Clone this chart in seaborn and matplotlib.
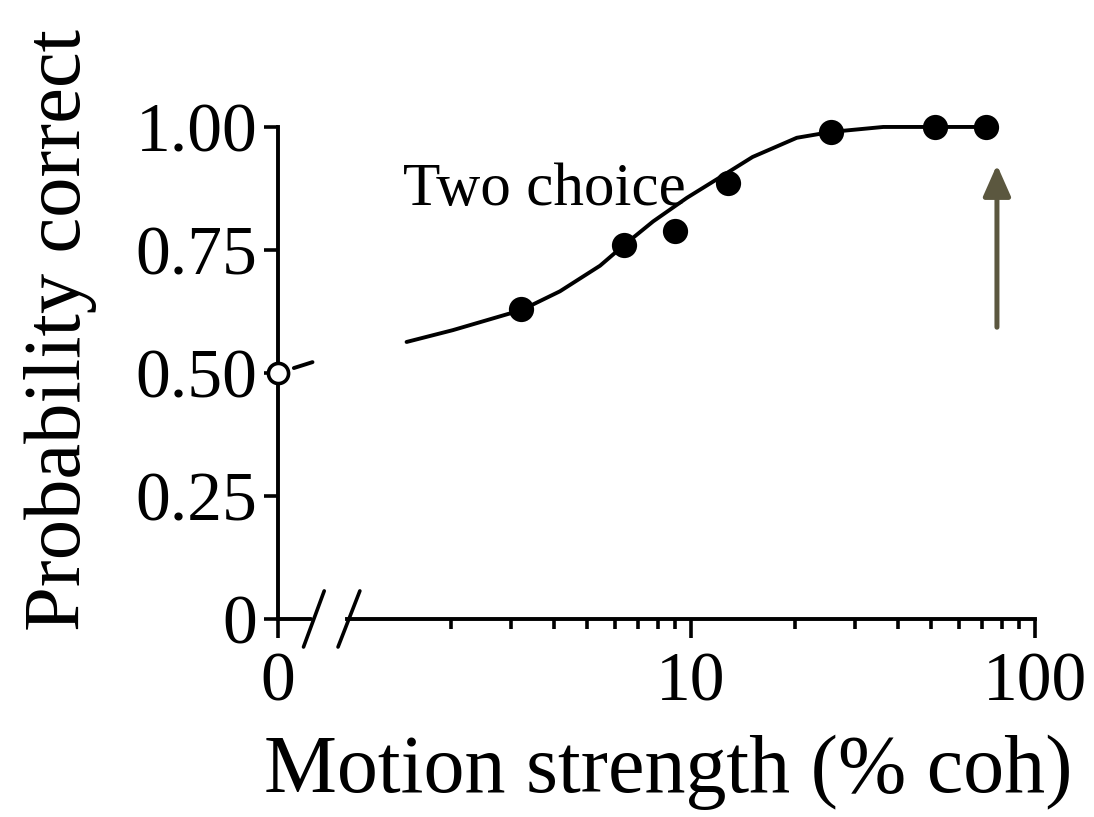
import numpy as np
import pandas as pd
import matplotlib
matplotlib.use("Agg")
import matplotlib.pyplot as plt
import matplotlib.transforms as mtransforms
from matplotlib.lines import Line2D
import seaborn as sns

# ---- data ----
coherence = [3.2, 6.4, 9.0, 12.8, 25.6, 51.2, 72.0]
p_correct = [0.630, 0.760, 0.789, 0.886, 0.990, 1.000, 1.000]

fit_coh = [1.49, 2.03, 3.22, 4.16, 5.44, 6.39, 7.76, 9.73, 12.1, 15.1, 20.3, 25.6, 36.2, 72.5]
fit_p = [0.563, 0.587, 0.628, 0.666, 0.718, 0.760, 0.808, 0.856, 0.897, 0.939, 0.978, 0.990, 1.000, 1.000]

chance_coh = [0.0]
chance_p = [0.5]

dash_coh = [0.23, 0.50]
dash_p = [0.510, 0.522]

x_major = [0, 10, 100]
x_major_labels = ["0", "10", "100"]
x_minor = [2, 3, 4, 5, 6, 7, 8, 9, 20, 30, 40, 50, 60, 70, 80, 90]
y_ticks = [0, 0.25, 0.5, 0.75, 1.0]
y_tick_labels = ["0", "0.25", "0.50", "0.75", "1.00"]

arrow_x = 77.5
arrow_from = 0.593
arrow_to = 0.923

# ---- style ----
sns.set_style("ticks")
plt.rcParams["font.family"] = ["Liberation Serif", "DejaVu Serif"]
plt.rcParams["text.color"] = "black"
plt.rcParams["axes.labelcolor"] = "black"
plt.rcParams["xtick.color"] = "black"
plt.rcParams["ytick.color"] = "black"
plt.rcParams["axes.edgecolor"] = "black"

fig = plt.figure(figsize=(10.94, 8.17), dpi=100)
ax = fig.add_axes([0.2541, 0.2424, 0.6920, 0.6022])

GAP = 0.2006  # log-decades between "0" and 1


def fwd(x):
    x = np.asarray(x, dtype=float)
    return np.where(x < 1, -GAP + GAP * x, np.log10(np.maximum(x, 1.0)))


def inv(u):
    u = np.asarray(u, dtype=float)
    return np.where(u < 0, (u + GAP) / GAP, 10 ** np.clip(u, -10, 10))


ax.set_xscale("function", functions=(fwd, inv))
ax.set_xlim(0, 100)
ax.set_ylim(0, 1)

fit_df = pd.DataFrame({"coh": fit_coh, "p": fit_p})
pts_df = pd.DataFrame({"coh": coherence, "p": p_correct})
dash_df = pd.DataFrame({"coh": dash_coh, "p": dash_p})

sns.lineplot(data=fit_df, x="coh", y="p", ax=ax, color="black", lw=2.8,
             sort=False, estimator=None, clip_on=False)
sns.lineplot(data=dash_df, x="coh", y="p", ax=ax, color="black", lw=2.8,
             sort=False, estimator=None, clip_on=False)
sns.scatterplot(data=pts_df, x="coh", y="p", ax=ax, color="black", s=330,
                edgecolor="black", linewidth=0, zorder=5, clip_on=False)
ax.plot(chance_coh, chance_p, "o", ms=14.5, mfc="white", mec="black", mew=2.6,
        zorder=6, clip_on=False)

ax.annotate("", xy=(arrow_x, arrow_to), xytext=(arrow_x, arrow_from),
            arrowprops=dict(arrowstyle="-|>,head_length=0.95,head_width=0.42",
                            mutation_scale=20,
                            color="#5b573f", lw=3.6, shrinkA=0, shrinkB=0))

ax.text(1.455, 0.841, "Two choice", fontsize=44, ha="left", va="baseline",
        color="black")

# ---- axes ----
for s in ["top", "right"]:
    ax.spines[s].set_visible(False)
ax.spines["left"].set_linewidth(2.8)
ax.spines["bottom"].set_linewidth(2.8)
ax.spines["bottom"].set_bounds(1, 100)

# short segment before break
ax.add_line(Line2D([0, 0.48], [0, 0], color="black", lw=2.8, clip_on=False,
                   transform=ax.transData))
bt = mtransforms.blended_transform_factory(ax.transData, ax.transAxes)
for xb, xt in [(0.37, 0.67), (0.87, 1.09)]:
    ax.add_line(Line2D([xb, xt], [-0.057, 0.057], color="black", lw=2.6,
                       clip_on=False, transform=bt))

ax.set_xticks(x_major)
ax.set_xticklabels(x_major_labels)
ax.set_xticks(x_minor, minor=True)
ax.set_xticklabels([], minor=True)
ax.set_yticks(y_ticks)
ax.set_yticklabels(y_tick_labels)

ax.tick_params(axis="x", which="major", length=14, width=2.6, labelsize=50,
               pad=10, color="black", labelcolor="black")
ax.tick_params(axis="x", which="minor", length=7.5, width=2.6, color="black")
ax.tick_params(axis="y", which="major", length=10, width=2.6, labelsize=50,
               pad=5, color="black", labelcolor="black")

ax.set_xlabel("Motion strength (% coh)", fontsize=59, color="black")
ax.set_ylabel("Probability correct", fontsize=58, color="black")
ax.xaxis.set_label_coords(0.515, -0.235)
ax.yaxis.set_label_coords(-0.239, 0.587)

fig.savefig("out.png", dpi=100, facecolor="white")
